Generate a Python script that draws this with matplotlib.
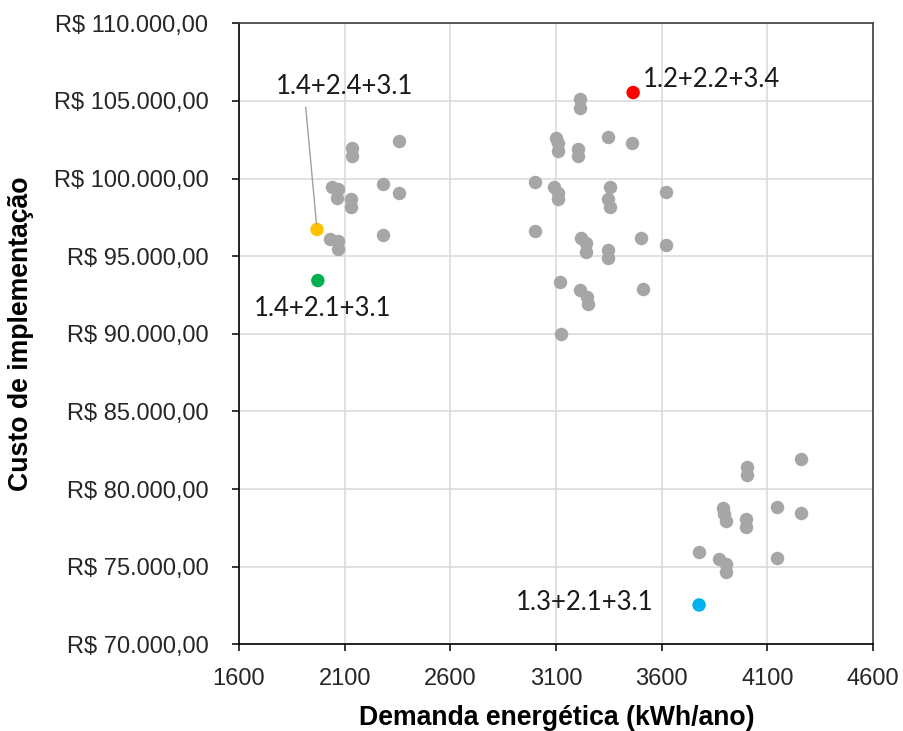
import matplotlib.pyplot as plt
from matplotlib.ticker import FuncFormatter


# gray points (all other combinations)
demand = [
    2133, 2135, 2358, 2041, 2070, 2065, 2128, 2128, 2283, 2358, 2030, 2070, 2067, 2283,
    3213, 3213, 3100, 3111, 3111, 3205, 3205, 3347, 3458, 3000, 3090, 3111, 3111, 3355,
    3347, 3355, 3622, 3000, 3220, 3244, 3244, 3347, 3347, 3502, 3622, 3118, 3213, 3248,
    3252, 3510, 3126,
    4258, 4005, 4005, 3888, 3896, 3904, 3999, 3999, 4147, 4258, 3777, 3872, 3904, 3904,
    4147,
]
cost = [
    102000, 101450, 102400, 99450, 99300, 98770, 98700, 98160, 99630, 99050, 96120, 95970,
    95430, 96340,
    105150, 104570, 102590, 102270, 101770, 101930, 101450, 102680, 102270, 99770, 99480,
    99090, 98660, 99480, 98660, 98160, 99150, 96610, 96140, 95820, 95280, 95390, 94900,
    96190, 95710, 93320, 92850, 92380, 91950, 92900, 89990,
    81930, 81410, 80870, 78770, 78400, 77970, 78060, 77520, 78870, 78480, 75970, 75500,
    75170, 74640, 75580,
]

# highlighted combinations
hl_labels = ["1.4+2.4+3.1", "1.4+2.1+3.1", "1.2+2.2+3.4", "1.3+2.1+3.1"]
hl_demand = [1969, 1973, 3465, 3777]
hl_cost = [96720, 93430, 105540, 72530]
hl_colors = ["#FFC000", "#00B050", "#FF0000", "#00B0F0"]

x_ticks = [1600, 2100, 2600, 3100, 3600, 4100, 4600]
y_ticks = [70000, 75000, 80000, 85000, 90000, 95000, 100000, 105000, 110000]


def brl(v, pos=None):
    s = f"{v:,.2f}".replace(",", "X").replace(".", ",").replace("X", ".")
    return f"R$ {s}"


plt.rcParams["font.family"] = ["Liberation Sans", "DejaVu Sans"]

fig = plt.figure(figsize=(9.04, 7.31), dpi=100)
ax = fig.add_axes([0.2644, 0.1187, 0.7013, 0.8494])

ax.scatter(demand, cost, s=94, color="#A6A6A6", linewidths=0, zorder=3)
ax.scatter(hl_demand, hl_cost, s=94, c=hl_colors, linewidths=0, zorder=4)

# label offsets in points, relative to each highlighted point
offsets = [(20, 103), (3.6, -20), (7, 9.5), (-33, 2)]
aligns = [("center", "center"), ("center", "center"), ("left", "center"), ("right", "center")]

for i, lbl in enumerate(hl_labels):
    kw = {}
    if i == 0:
        kw["arrowprops"] = dict(arrowstyle="-", color="#A0A0A0", lw=1,
                                relpos=(0.21, 0), shrinkA=4, shrinkB=4)
    ax.annotate(lbl, xy=(hl_demand[i], hl_cost[i]), xytext=offsets[i],
                textcoords="offset points", ha=aligns[i][0], va=aligns[i][1],
                fontsize=18.5, family=["Lato", "DejaVu Sans"], color="#1A1A1A",
                zorder=5, **kw)

ax.set_xlim(1600, 4600)
ax.set_ylim(70000, 110000)
ax.set_xticks(x_ticks)
ax.set_yticks(y_ticks)
ax.yaxis.set_major_formatter(FuncFormatter(brl))

ax.grid(True, color="#D9D9D9", linewidth=1.1, zorder=0)
ax.set_axisbelow(True)

for side in ["left", "bottom"]:
    ax.spines[side].set_color("black")
    ax.spines[side].set_linewidth(1.2)
for side in ["top", "right"]:
    ax.spines[side].set_color("#404040")
    ax.spines[side].set_linewidth(1.2)

ax.tick_params(axis="both", direction="out", length=5, width=1.1, color="black",
               labelsize=17, labelcolor="#262626")
ax.tick_params(axis="y", pad=17)
ax.tick_params(axis="x", pad=12)

ax.set_xlabel("Demanda energética (kWh/ano)", fontsize=19.2, fontweight="bold")
ax.set_ylabel("Custo de implementação", fontsize=19.2, fontweight="bold")
ax.xaxis.set_label_coords(0.501, -0.098)
ax.yaxis.set_label_coords(-0.323, 0.5)

fig.savefig("out.png", dpi=100)
